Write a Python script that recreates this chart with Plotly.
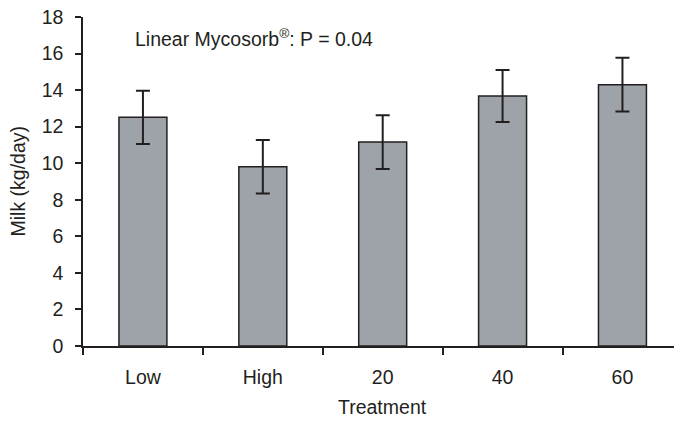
import plotly.graph_objects as go

categories = ["Low", "High", "20", "40", "60"]
milk = [12.51, 9.81, 11.16, 13.68, 14.3]
milk_err = [1.46, 1.46, 1.47, 1.42, 1.47]
y_ticks = [0, 2, 4, 6, 8, 10, 12, 14, 16, 18]

INK = "#231f20"
FONT = "Liberation Sans, Arial, sans-serif"
FS = 19.5

fig = go.Figure()
fig.add_trace(go.Bar(
    x=categories, y=milk, width=0.4,
    marker=dict(color="#9da3a9", line=dict(color=INK, width=1.5)),
    error_y=dict(type="data", array=milk_err, visible=True,
                 color=INK, thickness=2, width=7),
))

fig.update_layout(
    width=674, height=429,
    margin=dict(l=83, r=0, t=17, b=83, autoexpand=False),
    paper_bgcolor="white", plot_bgcolor="white",
    font=dict(family=FONT, size=FS, color=INK),
    showlegend=False,
    xaxis=dict(
        type="category", range=[-0.5, 4.43], automargin=False,
        showline=True, linecolor=INK, linewidth=1.5,
        ticks="outside", tickson="boundaries", ticklen=7, tickwidth=1.5,
        tickcolor=INK, ticklabelstandoff=13, showgrid=False, zeroline=False,
    ),
    yaxis=dict(
        range=[0, 18], tickvals=y_ticks, automargin=False,
        showline=True, linecolor=INK, linewidth=1.5,
        ticks="outside", ticklen=6, tickwidth=1.5, tickcolor=INK,
        ticklabelstandoff=8, showgrid=False, zeroline=False,
    ),
    annotations=[
        dict(text="Linear Mycosorb<sup>®</sup>: P = 0.04", xref="paper", yref="y",
             x=0.084, y=16.85, xanchor="left", yanchor="middle",
             showarrow=False, font=dict(size=FS)),
        dict(text="Treatment", xref="x", yref="paper", x=2, y=0,
             yshift=-61, xanchor="center", yanchor="middle",
             showarrow=False, font=dict(size=FS)),
        dict(text="Milk (kg/day)", xref="paper", yref="paper", x=0, y=0.5,
             xshift=-66, textangle=-90, xanchor="center", yanchor="middle",
             showarrow=False, font=dict(size=FS)),
    ],
)

fig.write_html("out.html", config={"displayModeBar": False},
               post_script="document.body.style.margin='0';document.body.style.overflow='hidden';")
